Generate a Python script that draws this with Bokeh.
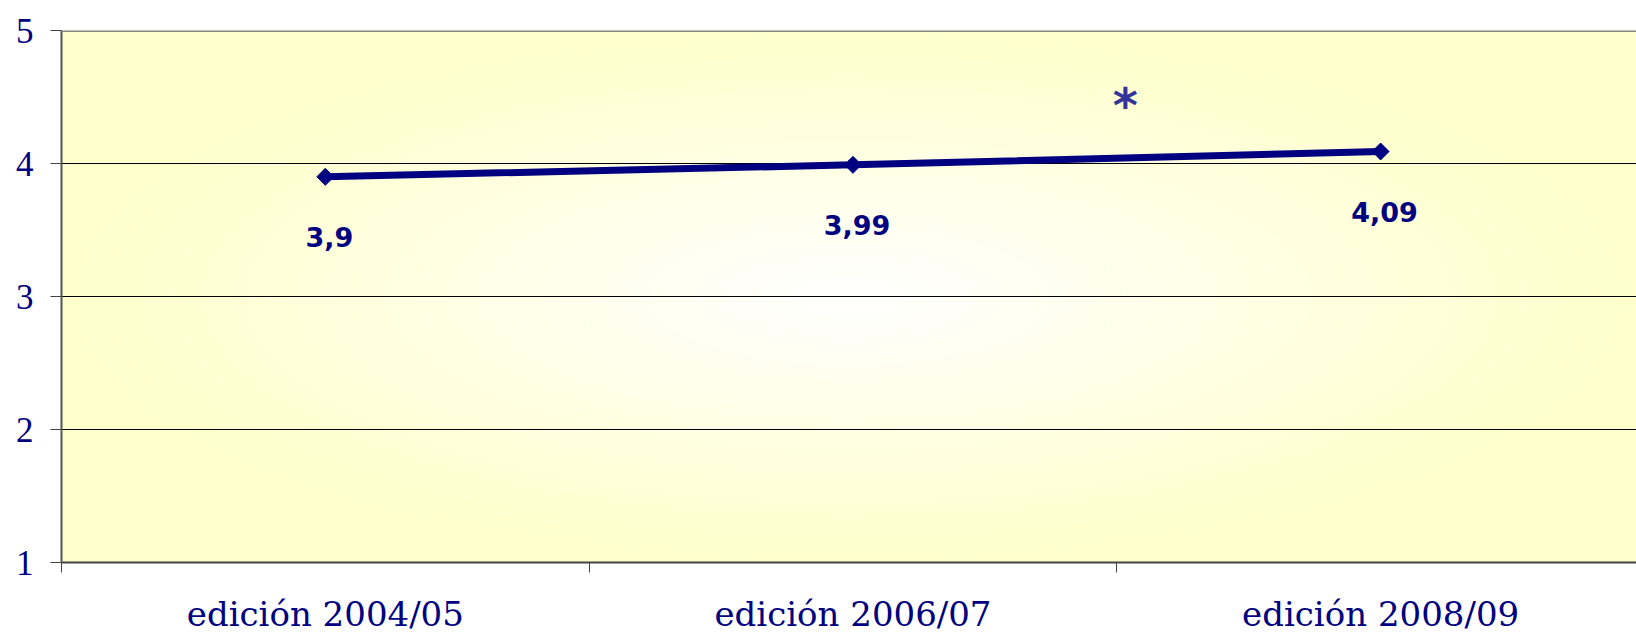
import numpy as np
from bokeh.plotting import figure
from bokeh.models import FixedTicker, Span
from bokeh.core.properties import value
from bokeh.embed import file_html
from bokeh.resources import INLINE

# ---- data ----
categories = ["edición 2004/05", "edición 2006/07", "edición 2008/09"]
values = [3.9, 3.99, 4.09]
value_labels = ["3,9", "3,99", "4,09"]
y_ticks = [1, 2, 3, 4, 5]
note_text = ["*"]
note_x = [2.016]
note_y = [4.44]

# ---- layout constants ----
X_END = 2.985
Y_START, Y_END = 1, 5
NAVY = "#000080"

xs = [i + 0.5 for i in range(len(categories))]
boundaries = list(range(len(categories) + 1))

p = figure(width=1636, height=636, x_range=(0, X_END), y_range=(Y_START, Y_END),
           output_backend="svg", toolbar_location=None,
           min_border_left=61, min_border_right=0, min_border_top=30, min_border_bottom=74)
p.outline_line_color = None
p.background_fill_color = "#FFFFCC"
p.border_fill_color = "white"

# radial gradient background (style only)
H, W = 266, 788
v, u = np.mgrid[0:H, 0:W]
uu = (u + 0.5) / W
vv = (v + 0.5) / H
d = np.sqrt(((uu - 0.5) / 0.5) ** 2 + ((vv - 0.5) / 0.5) ** 2)
t = np.clip(d, 0, 1)
img = np.empty((H, W), dtype=np.uint32)
view = img.view(dtype=np.uint8).reshape((H, W, 4))
view[:, :, 0] = 255
view[:, :, 1] = 255
view[:, :, 2] = (255 - 51 * t).astype(np.uint8)
view[:, :, 3] = 255
bg = p.image_rgba(image=[img], x=0, y=Y_START, dw=X_END, dh=Y_END - Y_START)
bg.level = "image"

# grid
p.xgrid.grid_line_color = None
p.ygrid.ticker = FixedTicker(ticks=y_ticks)
p.ygrid.grid_line_color = "black"
p.ygrid.grid_line_width = 1

# y axis
p.yaxis.ticker = FixedTicker(ticks=y_ticks)
p.yaxis.axis_line_color = "#555555"
p.yaxis.axis_line_width = 2
p.yaxis.major_tick_in = 0
p.yaxis.major_tick_out = 11
p.yaxis.major_tick_line_color = "#444444"
p.yaxis.minor_tick_line_color = None
p.yaxis.major_label_text_font = "Liberation Serif"
p.yaxis.major_label_text_font_size = "35px"
p.yaxis.major_label_text_color = NAVY
p.yaxis.major_label_standoff = 17

# x axis: labels at category centres, tick marks at category boundaries
p.xaxis.ticker = FixedTicker(ticks=xs, minor_ticks=boundaries)
p.xaxis.major_label_overrides = {xc: cat for xc, cat in zip(xs, categories)}
p.xaxis.major_tick_in = 0
p.xaxis.major_tick_out = 0
p.xaxis.major_tick_line_color = None
p.xaxis.minor_tick_in = 0
p.xaxis.minor_tick_out = 10
p.xaxis.minor_tick_line_color = "#444444"
p.xaxis.axis_line_color = "#444444"
p.xaxis.axis_line_width = 2
p.xaxis.major_label_text_font = "DejaVu Serif"
p.xaxis.major_label_text_font_size = "34px"
p.xaxis.major_label_text_color = NAVY
p.xaxis.major_label_standoff = 21

# top border
p.add_layout(Span(location=Y_END, dimension="width", line_color="#888888", line_width=3))

# series
p.line(x=xs, y=values, line_color=NAVY, line_width=7)
p.scatter(x=xs, y=values, marker="square", angle=np.pi / 4, size=12,
          fill_color=NAVY, line_color=NAVY)

p.text(x=xs, y=values, text=value_labels, text_font=value("DejaVu Sans"),
       text_font_style="bold", text_font_size="27px", text_color=NAVY,
       text_align="center", text_baseline="middle", x_offset=4, y_offset=60)

p.text(x=note_x, y=note_y, text=note_text, text_font=value("DejaVu Sans"),
       text_font_style="bold", text_font_size="48px", text_color="#333399",
       text_align="center", text_baseline="middle")

open("out.html", "w").write(file_html(p, INLINE))
